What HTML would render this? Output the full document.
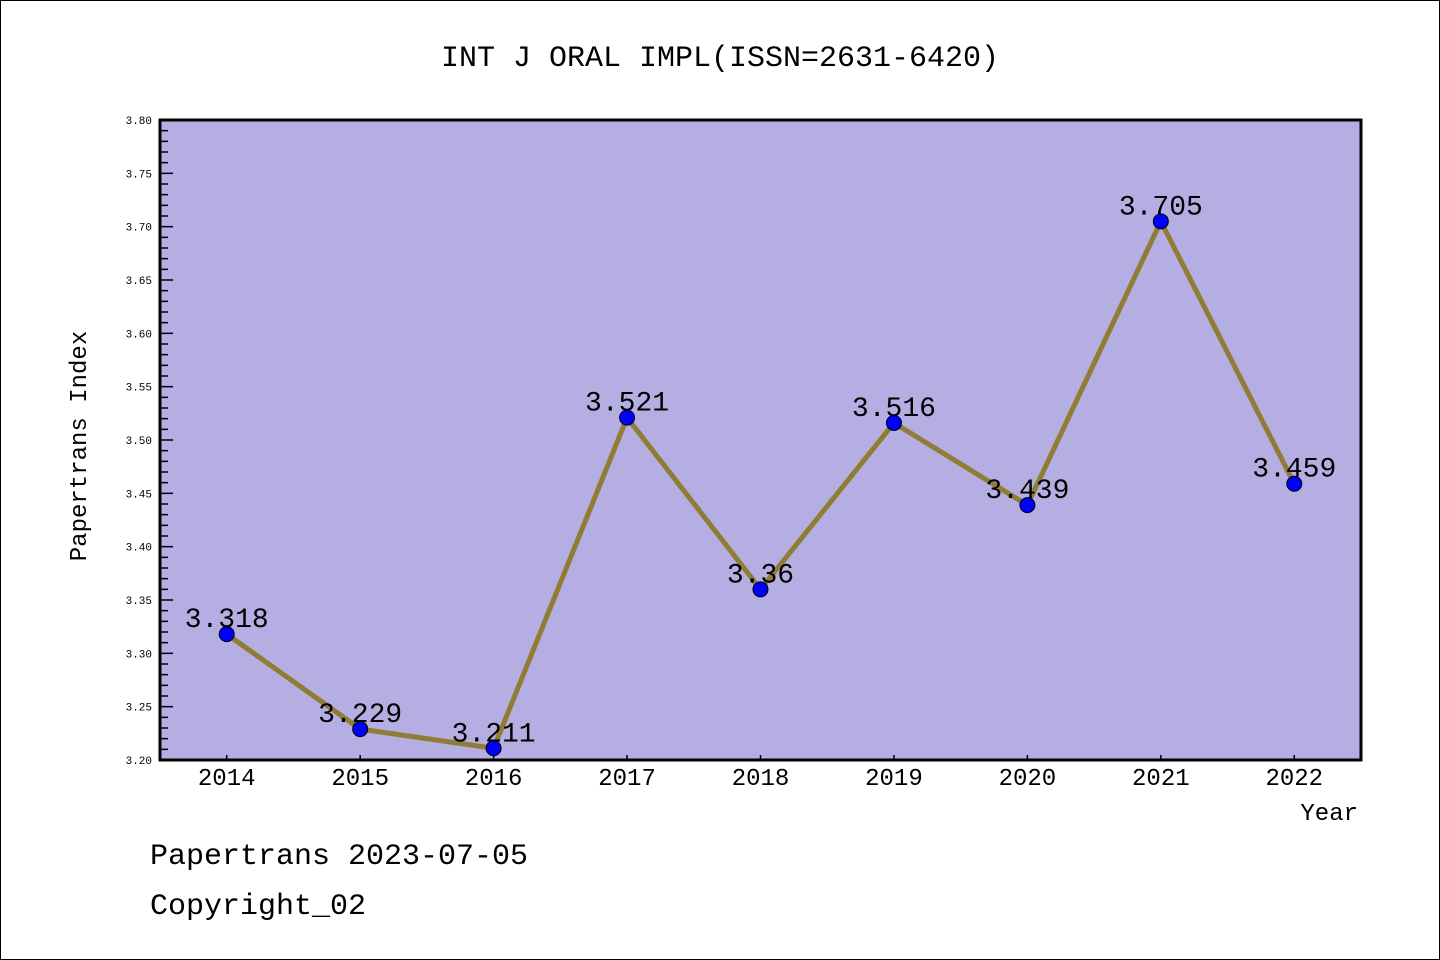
<!DOCTYPE html>
<html><head><meta charset="utf-8"><style>
html,body{margin:0;padding:0;background:#fff}
svg{display:block}
text{font-family:"WenQuanYi Zen Hei","Liberation Mono",monospace;fill:#000}
</style></head><body>
<svg id="chart" width="1440" height="960" xmlns="http://www.w3.org/2000/svg">
<rect x="0.5" y="0.5" width="1439" height="959" fill="#fff" stroke="#000"/>
<text x="720" y="66" font-size="30" text-anchor="middle">INT J ORAL IMPL(ISSN=2631-6420)</text>
<rect x="160" y="120" width="1201" height="640" fill="#b5aee2"/>
<g id="yticks"></g><g id="xticks"></g><g id="series"></g>
<rect x="160" y="120" width="1201" height="640" fill="none" stroke="#000" stroke-width="3"/>
<text x="86" y="446" font-size="24" text-anchor="middle" transform="rotate(-90 86 446)">Papertrans Index</text>
<text x="1358" y="820" font-size="24" text-anchor="end">Year</text>
<text x="150" y="864" font-size="30">Papertrans 2023-07-05</text>
<text x="150" y="914" font-size="30">Copyright_02</text>
</svg>
<script>
const years = [2014,2015,2016,2017,2018,2019,2020,2021,2022];
const values = [3.318,3.229,3.211,3.521,3.36,3.516,3.439,3.705,3.459];
const valueLabels = ["3.318","3.229","3.211","3.521","3.36","3.516","3.439","3.705","3.459"];
const yTickLabels = ["3.20","3.25","3.30","3.35","3.40","3.45","3.50","3.55","3.60","3.65","3.70","3.75","3.80"];
const NS="http://www.w3.org/2000/svg";
const X0=160,X1=1361,Y0=760,Y1=120,xmin=2013.5,xmax=2022.5,ymin=3.2,ymax=3.8;
const sx=v=>X0+(v-xmin)/(xmax-xmin)*(X1-X0);
const sy=v=>Y0-(v-ymin)/(ymax-ymin)*(Y0-Y1);
function mk(tag,attrs,parent){const e=document.createElementNS(NS,tag);for(const k in attrs)e.setAttribute(k,attrs[k]);parent.appendChild(e);return e;}
const yt=document.getElementById('yticks');
for(let i=0;i<=60;i++){const v=ymin+i*0.01,y=sy(v),major=i%5===0;
 const l=mk('line',{x1:X0,x2:X0+(major?13:8),y1:y,y2:y,stroke:'#000','stroke-width':1.5},yt);
 
 }
yTickLabels.forEach(s=>{const t=mk('text',{x:152,y:sy(parseFloat(s))+4,'font-size':11,'text-anchor':'end'},yt);t.textContent=s;
 
 });
const xt=document.getElementById('xticks');
years.forEach(yr=>{const x=sx(yr);
 const l=mk('line',{x1:x,x2:x,y1:Y0,y2:Y0-5,stroke:'#000','stroke-width':1.5},xt);
 
 
 const t=mk('text',{x:x,y:785,'font-size':24,'text-anchor':'middle'},xt);t.textContent=yr;
 
 });
const sg=document.getElementById('series');
const pl=mk('polyline',{points:years.map((y,i)=>sx(y)+','+sy(values[i])).join(' '),fill:'none',stroke:'#8f7c35','stroke-width':5,'stroke-linejoin':'round'},sg);


years.forEach((yr,i)=>{const c=mk('circle',{cx:sx(yr),cy:sy(values[i]),r:7.5,fill:'#0000ff',stroke:'#000','stroke-width':1},sg);
 
 });
years.forEach((yr,i)=>{const t=mk('text',{x:sx(yr),y:sy(values[i])-7,'font-size':28,'text-anchor':'middle'},sg);t.textContent=valueLabels[i];
 
 });
</script>
</body></html>
